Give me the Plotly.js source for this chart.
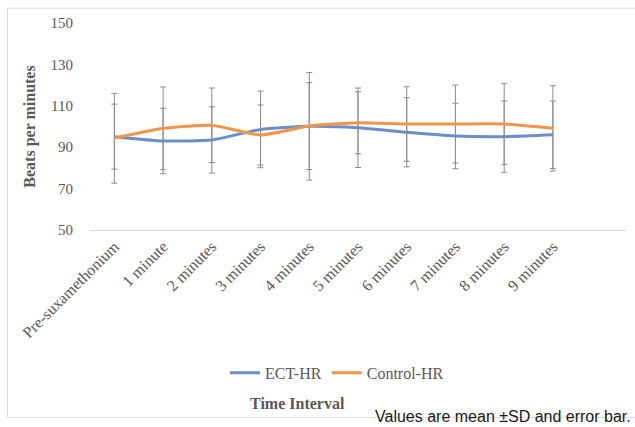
<!DOCTYPE html>
<html>
<head>
<meta charset="utf-8">
<script src="https://cdn.plot.ly/plotly-3.0.1.min.js"></script>
<style>html,body{margin:0;padding:0;background:#fff;}#chart{width:635px;height:427px;}</style>
</head>
<body>
<div id="chart"></div>
<script>
const categories = ["Pre-suxamethonium", "1 minute", "2 minutes", "3 minutes", "4 minutes", "5 minutes", "6 minutes", "7 minutes", "8 minutes", "9 minutes"];
const ectHR = [95.1, 93.0, 93.5, 98.6, 100.1, 99.4, 97.2, 95.4, 95.1, 96.0];
const ectSD = [15.7, 15.8, 16.0, 18.5, 26.0, 19.2, 16.7, 15.8, 17.2, 16.3];
const controlHR = [94.3, 99.1, 100.6, 95.9, 100.2, 101.8, 101.2, 101.2, 101.2, 99.1];
const controlSD = [21.7, 20.0, 18.0, 14.5, 21.0, 15.0, 18.0, 18.8, 19.5, 20.6];
const yTicks = [50, 70, 90, 110, 130, 150];

const serif = "Liberation Serif, Times New Roman, serif";
const errStyle = {type: "data", visible: true, color: "#8c8c8c", thickness: 1, width: 3};

const traces = [
  {x: categories, y: ectHR, name: "ECT-HR", type: "scatter", mode: "lines",
   line: {color: "#6a8fc7", width: 3, shape: "spline", smoothing: 0.5},
   error_y: Object.assign({array: ectSD}, errStyle)},
  {x: categories, y: controlHR, name: "Control-HR", type: "scatter", mode: "lines",
   line: {color: "#f0954a", width: 3, shape: "spline", smoothing: 0.5},
   error_y: Object.assign({array: controlSD}, errStyle)}
];

const layout = {
  width: 635, height: 427,
  margin: {l: 90, r: 9, t: 23, b: 197},
  paper_bgcolor: "#fff", plot_bgcolor: "#fff",
  font: {family: serif, size: 16, color: "#595959"},
  showlegend: true,
  legend: {orientation: "h", x: 0.252, xanchor: "left", y: -0.69, yanchor: "middle",
           font: {family: serif, size: 16, color: "#595959"}, itemwidth: 30, traceorder: "normal"},
  xaxis: {type: "category", range: [-0.5, 10.5], tickangle: -45, showgrid: false, zeroline: false,
          showline: true, linecolor: "#d9d9d9", linewidth: 1, ticks: "",
          tickfont: {family: serif, size: 16, color: "#595959"}},
  yaxis: {range: [50, 150], tickvals: yTicks, showgrid: false, zeroline: false, showline: false,
          ticks: "outside", ticklen: 13, tickcolor: "rgba(0,0,0,0)",
          tickfont: {family: serif, size: 15, color: "#595959"},
          title: {text: "<b>Beats per minutes</b>", standoff: 10, font: {family: serif, size: 16, color: "#595959"}}},
  shapes: [{type: "rect", xref: "paper", yref: "paper", x0: -0.154, x1: 1.03, y0: -0.905, y1: 1.072,
            line: {color: "#d9d9d9", width: 1}, fillcolor: "rgba(0,0,0,0)", layer: "below"}],
  annotations: [
    {text: "<b>Time Interval</b>", xref: "paper", yref: "paper", x: 0.388, xanchor: "center",
     y: -0.836, yanchor: "middle", showarrow: false,
     font: {family: serif, size: 16, color: "#595959"}},
    {text: "Values are mean \u00B1SD and error bar.", xref: "paper", yref: "paper",
     x: 1.013, xanchor: "right", y: -0.9, yanchor: "middle", showarrow: false,
     font: {family: "Liberation Sans, Arial, sans-serif", size: 16, color: "#1a1a1a"}}]
};

Plotly.newPlot("chart", traces, layout, {displayModeBar: false, staticPlot: true});
</script>
</body>
</html>
